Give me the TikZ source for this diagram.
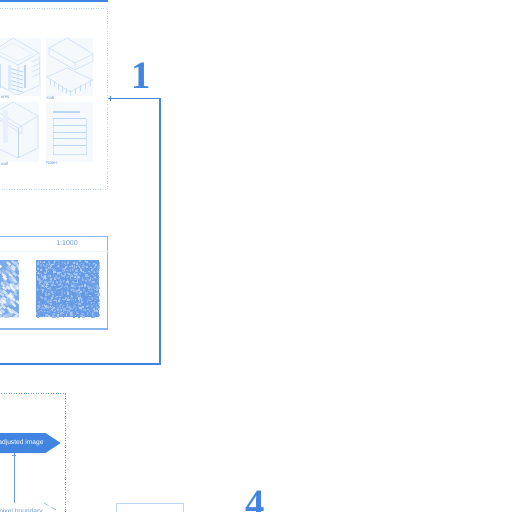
\documentclass[tikz,border=0pt]{standalone}
\usepackage{fontspec}
\usetikzlibrary{arrows.meta, positioning, calc, shapes.symbols}
\newfontfamily\labelfont{Liberation Sans}
\newfontfamily\numfont{Liberation Serif}
\definecolor{mainblue}{RGB}{66,133,224}
\definecolor{softblue}{RGB}{186,213,245}
\definecolor{tileblue}{RGB}{245,249,254}
\definecolor{textblue}{RGB}{110,150,215}
\def\px{0.2mm}

\tikzset{
  pane/.style={draw, inner sep=0pt, outer sep=0pt},
  tile/.style={fill=tileblue, inner sep=0pt, outer sep=0pt, anchor=north west},
  tilelabel/.style={inner sep=0pt, text=textblue, font=\labelfont\fontsize{2.5}{3}\selectfont},
  bignum/.style={inner sep=0pt, text=mainblue, font=\numfont\bfseries\fontsize{22}{22}\selectfont},
  isoline/.style={draw=softblue!75, line width=0.3pt},
  isostrong/.style={draw=softblue, line width=0.5pt},
  tickarrow/.style={-{Bar[width=2.4pt,line width=0.3pt,sep=0pt]Square[length=1.4pt,width=0.45pt,sep=0pt]}},
}

\begin{document}
\begin{tikzpicture}[x=\px, y=-\px]
  \useasboundingbox (0,0) rectangle (512,512);
  \clip (0,0) rectangle (512,512);

  \node[fill=mainblue, inner sep=0pt, anchor=north east, minimum width=200*\px, minimum height=1.6*\px] (topbar) at (108,0) {};
  \node[pane, draw=softblue, densely dotted, line width=0.4pt, anchor=north east, minimum width=300*\px, minimum height=181*\px] (parts) at (107.5,8) {};

  \node[tile, minimum width=81*\px, minimum height=58*\px] (tilea) at (-40,38) {};
  \node[tile, minimum width=47*\px, minimum height=58*\px] (tileb) at (46,38) {};
  \node[tile, minimum width=79*\px, minimum height=60*\px] (tilec) at (-40,102) {};
  \node[tile, minimum width=47*\px, minimum height=60*\px] (tiled) at (46,102) {};

  \node[tilelabel, anchor=north west] (labela) at (0.5,95.5) {ures};
  \node[tilelabel, anchor=north west] (labelb) at (46,95.5) {slab};
  \node[tilelabel, anchor=north west] (labelc) at (0.5,161.5) {wall};
  \node[tilelabel, anchor=north west] (labeld) at (46,161.5) {Notes};

  % facade block
  \draw[isoline] (13,38) -- (39,53) -- (18,65) -- (-8,52) -- cycle;
  \draw[isoline, draw opacity=0.6] (13,43) -- (33,54) -- (18,61) -- (-2,51) -- cycle;
  \draw[isoline] (39,53) -- (40,85) -- (18,95) -- (18,65);
  \draw[isoline] (18,95) -- (-8,82) -- (-8,52);
  \foreach \yy in {0,4,...,20}
    \draw[isostrong] (9,68+\yy) -- (23,72+\yy);
  \fill[softblue] (24,65) rectangle (26,88);
  \fill[softblue!50] (8,65) rectangle (11,90);
  \foreach \yy in {0,5,10,15}
    \draw[isoline] (32,62+\yy) -- (40,58+\yy);
  \draw[isoline] (0,64) -- (0,88);

  % slab pair
  \draw[isoline] (67,38) -- (93,54) -- (75,63) -- (49,48) -- cycle;
  \draw[isoline] (49,48) -- (49,55) -- (75,70) -- (75,63);
  \draw[isoline] (75,70) -- (93,61) -- (93,54);
  \draw[isoline] (47,77) -- (67,68) -- (93,80) -- (70,92) -- cycle;
  \foreach \xx/\yy in {50/79,54/81,58/84,62/86,66/88,70/90,75/88,80/85,85/83,90/80}
    \draw[isoline] (\xx,\yy) -- (\xx,\yy+6);

  % shear wall block
  \draw[isoline] (13,102) -- (38,116) -- (18,128) -- (-7,114) -- cycle;
  \draw[isoline] (0,113) -- (22,127) -- (22,134) -- (0,120);
  \draw[isoline] (38,116) -- (38,148) -- (18,158);
  \draw[isostrong] (18,128) -- (18,158);
  \draw[isoline] (18,158) -- (-7,146);
  \fill[softblue!35] (3,110) rectangle (8,143);

  % notes sheet
  \draw[softblue, line width=0.9pt] (53,112) -- (80,112);
  \draw[softblue!70, line width=0.5pt] (53,118.6) -- (53,154) -- (86,154) -- (86,118.6);
  \foreach \yy in {118.6,125,132,145}
    \draw[softblue, line width=0.45pt] (53,\yy) -- (86,\yy);
  \draw[softblue, line width=0.9pt] (53,138.7) -- (86,138.7);

  \node[pane, draw=softblue!60!mainblue, line width=0.5pt, anchor=north east, minimum width=300*\px, minimum height=92.5*\px] (scalebox) at (107.5,236.5) {};
  \draw[softblue!25, line width=0.3pt] (0,251) -- (scalebox.east |- 0,251);
  \draw[softblue!60!mainblue, line width=0.7pt] (scalebox.south west) -- (scalebox.south east);
  \node[inner sep=0pt, text=textblue, font=\labelfont\fontsize{4}{5}\selectfont] (scaletext) at (67,243.5) {1:1000};

  \node[fill=mainblue!80, inner sep=0pt, anchor=north west, minimum width=63*\px, minimum height=57*\px] (mapb) at (36,260) {};
  \node[fill=mainblue!70, inner sep=0pt, anchor=north east, minimum width=40*\px, minimum height=57*\px] (mapa) at (19,260) {};
  \pgfmathsetseed{7}
  \begin{scope}
    \clip (mapb.north west) rectangle (mapb.south east);
    \foreach \i in {1,...,900}{
      \pgfmathsetmacro{\shade}{int(random(40,85))}
      \pgfmathsetmacro{\posx}{36+0.1*random(0,630)}
      \pgfmathsetmacro{\posy}{260+0.1*random(0,570)}
      \pgfmathsetmacro{\lenx}{0.8+0.1*random(0,17)}
      \pgfmathsetmacro{\leny}{0.8+0.1*random(0,17)}
      \fill[mainblue!\shade!white] (\posx,\posy) rectangle +(\lenx,\leny);
    }
  \end{scope}
  \begin{scope}
    \clip (mapa.north west) rectangle (mapa.south east);
    \foreach \i in {1,...,110}{
      \pgfmathsetmacro{\shade}{int(random(5,55))}
      \pgfmathsetmacro{\posx}{-2+0.1*random(0,220)}
      \pgfmathsetmacro{\posy}{260+0.1*random(0,570)}
      \fill[mainblue!\shade!white, rotate around={-40:(\posx,\posy)}] (\posx,\posy) rectangle +(4.5,2.2);
    }
  \end{scope}

  \coordinate (loopstart) at (-5,364);
  \coordinate (loopturn) at (160,364);
  \draw[mainblue, line width=0.85pt, tickarrow] (loopstart) -- (loopturn) |- (parts.east);
  \node[bignum] (numone) at (141,76) {1};

  \node[pane, draw=softblue!30!mainblue, densely dotted, line width=0.4pt, anchor=north east, minimum width=300*\px, minimum height=200*\px] (adjbox) at (65.5,393.5) {};
  \node[signal, signal to=east, signal pointer angle=67, fill=mainblue, inner sep=0pt, outer sep=0pt, text=white, minimum width=64*\px, minimum height=20*\px, font=\labelfont\fontsize{3.8}{4.5}\selectfont] (adjimg) at (21,443) {adjusted image};

  \coordinate (bdrytop) at (14,503);
  \draw[mainblue!80, line width=0.5pt, tickarrow] (bdrytop) -- (bdrytop |- adjimg.south);
  \node[tilelabel, font=\labelfont\fontsize{3.8}{4.5}\selectfont, anchor=north] (bdrytext) at (21,508.5) {pixel boundary};
  \coordinate (gatetop) at (44,503);
  \coordinate (gateright) at (58,511);
  \draw[softblue!60!mainblue, densely dashed, line width=0.35pt] (gatetop) -- (gateright);

  \node[pane, draw=softblue, line width=0.5pt, anchor=north west, minimum width=67*\px, minimum height=40*\px] (lastbox) at (116.5,503.5) {};
  \node[bignum, anchor=north] (numfour) at (255,490.5) {4};
\end{tikzpicture}
\end{document}
